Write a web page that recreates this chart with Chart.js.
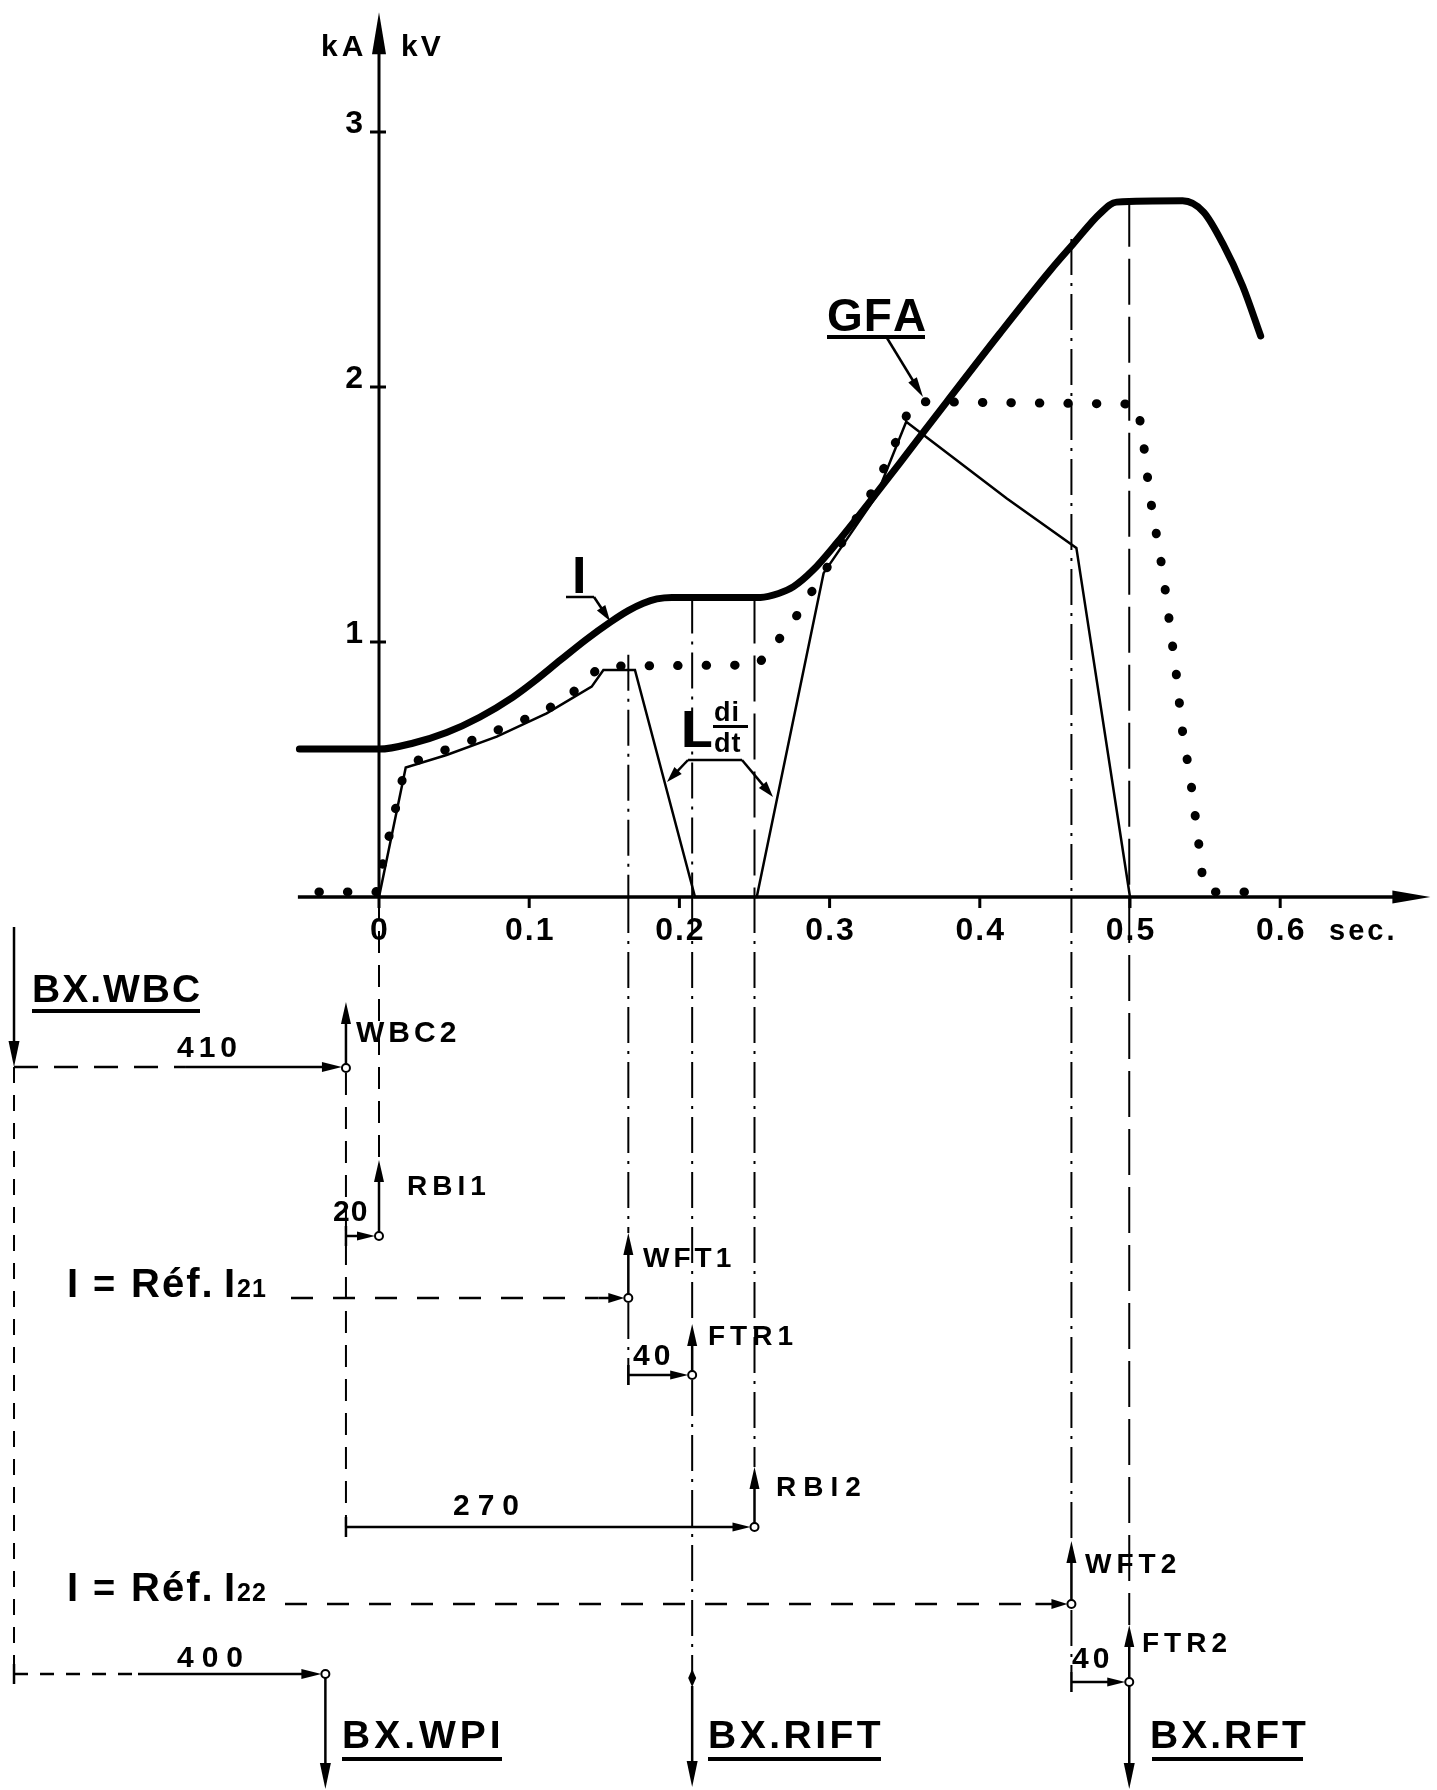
<!DOCTYPE html>
<html>
<head>
<meta charset="utf-8">
<title>BX timing - I, GFA, L di/dt</title>
<script src="https://cdn.jsdelivr.net/npm/chart.js@4.4.0/dist/chart.umd.min.js"></script>
<style>
  html, body { margin: 0; padding: 0; background: #fff; }
  canvas { display: block; }
</style>
</head>
<body>
<canvas id="timing" width="1437" height="1790"></canvas>
<script>
// axes
const xTicks = [0, 0.1, 0.2, 0.3, 0.4, 0.5, 0.6];
const xTickLabels = ['0', '0.1', '0.2', '0.3', '0.4', '0.5', '0.6'];
const yTicks = [1, 2, 3];
const yTickLabels = ['1', '2', '3'];

// current I (kA)
const tCurrent = [-0.053, 0.000, 0.023, 0.045, 0.067, 0.089, 0.103, 0.121, 0.138, 0.154, 0.166, 0.176, 0.185, 0.195,
  0.254, 0.266, 0.276, 0.289, 0.305, 0.318, 0.329, 0.350, 0.378, 0.413, 0.447, 0.462, 0.480, 0.491,
  0.535, 0.549, 0.562, 0.575, 0.587];
const vCurrent = [0.58, 0.58, 0.604, 0.645, 0.705, 0.783, 0.844, 0.930, 1.010, 1.078, 1.123, 1.152, 1.169, 1.175,
  1.175, 1.19, 1.217, 1.282, 1.39, 1.485, 1.567, 1.727, 1.942, 2.208, 2.458, 2.56, 2.68, 2.725,
  2.73, 2.686, 2.56, 2.396, 2.2];

// GFA voltage (kV), dotted
const tGfa = [-0.040, -0.002, 0.0173, 0.0262, 0.0428, 0.0595, 0.0761, 0.0917, 0.1094, 0.1238, 0.135, 0.1471,
  0.2515, 0.2603, 0.268, 0.2792, 0.2885, 0.298, 0.327, 0.3336, 0.340, 0.346, 0.350, 0.3546, 0.3629,
  0.5044, 0.508, 0.513, 0.522, 0.531, 0.5347, 0.5404, 0.5453, 0.549, 0.553, 0.582];
const vGfa = [0.02, 0.02, 0.505, 0.537, 0.574, 0.609, 0.648, 0.684, 0.727, 0.779, 0.83, 0.905,
  0.91, 0.962, 1.024, 1.112, 1.201, 1.289, 1.576, 1.648, 1.733, 1.81, 1.87, 1.938, 1.942,
  1.933, 1.83, 1.58, 1.27, 0.866, 0.66, 0.455, 0.233, 0.04, 0.02, 0.02];

// L di/dt (kV), thin line
const tLdidt = [0, 0.0178, 0.045, 0.0784, 0.1116, 0.1416, 0.1494, 0.1704, 0.2104, 0.2515, 0.296, 0.331, 0.351, 0.418, 0.4643, 0.5];
const vLdidt = [0, 0.508, 0.557, 0.629, 0.72, 0.825, 0.89, 0.89, 0, 0, 1.27, 1.571, 1.864, 1.563, 1.369, 0];

// event times (s) and where their guide starts on the graph
const guideTimes = [0.166, 0.2085, 0.250, 0.461, 0.4995];
const guideTops = [0.95, 1.175, 1.175, 2.58, 2.73];
const tLeft = -0.243;
const tWBC2 = -0.022;
const tWPI = -0.0357;

const ink = '#000';
const dashDot = [36, 8, 3, 8];
const longDash = [46, 12];
const shortDash = [22, 12];

function font(size) { return 'bold ' + size + 'px "Liberation Sans", Arial, sans-serif'; }

function seg(ctx, x1, y1, x2, y2, w, dash) {
  ctx.save();
  ctx.lineWidth = w;
  ctx.setLineDash(dash || []);
  ctx.beginPath(); ctx.moveTo(x1, y1); ctx.lineTo(x2, y2); ctx.stroke();
  ctx.restore();
}
function head(ctx, x, y, ang, len, half) {
  ctx.save();
  ctx.translate(x, y); ctx.rotate(ang);
  ctx.beginPath(); ctx.moveTo(0, 0); ctx.lineTo(-len, -half); ctx.lineTo(-len, half); ctx.closePath(); ctx.fill();
  ctx.restore();
}
function arrow(ctx, x1, y1, x2, y2, w, len, half) {
  const a = Math.atan2(y2 - y1, x2 - x1);
  seg(ctx, x1, y1, x2 - Math.cos(a) * len * 0.6, y2 - Math.sin(a) * len * 0.6, w);
  head(ctx, x2, y2, a, len, half);
}
function ring(ctx, x, y) {
  ctx.save();
  ctx.lineWidth = 2;
  ctx.fillStyle = '#fff';
  ctx.beginPath(); ctx.arc(x, y, 4, 0, Math.PI * 2); ctx.fill(); ctx.stroke();
  ctx.restore();
}
function spaced(ctx, str, x, y, size, gap, align) {
  ctx.font = font(size);
  const chars = [...str];
  const ws = chars.map(c => ctx.measureText(c).width);
  const total = ws.reduce((a, b) => a + b, 0) + gap * (chars.length - 1);
  let cx = align === 'center' ? x - total / 2 : align === 'right' ? x - total : x;
  ctx.textAlign = 'left';
  ctx.textBaseline = 'alphabetic';
  chars.forEach((c, i) => { ctx.fillText(c, cx, y); cx += ws[i] + gap; });
  return total;
}
function underline(ctx, x1, x2, y) { ctx.fillRect(x1, y - 2, x2 - x1, 4); }
function bar(ctx, x, y) { seg(ctx, x, y - 10, x, y + 10, 2.5); }
// event mark: horizontal delay arrow ending in a ring, then the output arrow upwards
function delayMark(ctx, xFrom, xTo, y, yTop) {
  bar(ctx, xFrom, y);
  arrow(ctx, xFrom, y, xTo - 4, y, 2.5, 18, 4.5);
  arrow(ctx, xTo, y - 4, xTo, yTop, 2.5, 22, 5);
  ring(ctx, xTo, y);
}
function refLabel(ctx, sub, y) {
  spaced(ctx, 'I', 67, y, 40, 0);
  spaced(ctx, '=', 93, y, 38, 0);
  spaced(ctx, 'Réf.', 131, y, 40, 2);
  spaced(ctx, 'I', 224, y, 40, 0);
  spaced(ctx, sub, 237, y, 25, 1);
}

const diagram = {
  id: 'diagram',
  beforeDraw(chart) {
    const ctx = chart.ctx;
    ctx.save(); ctx.fillStyle = '#fff'; ctx.fillRect(0, 0, chart.width, chart.height); ctx.restore();
  },
  beforeDatasetsDraw(chart) {
    const { ctx, scales: { x: xs, y: ys } } = chart;
    const X = v => xs.getPixelForValue(v), Y = v => ys.getPixelForValue(v);
    ctx.save();
    ctx.strokeStyle = ink; ctx.fillStyle = ink;
    // guides on the graph
    const styles = [dashDot, dashDot, longDash, dashDot, longDash];
    guideTimes.forEach((t, i) => seg(ctx, X(t), Y(guideTops[i]), X(t), Y(0), 2, styles[i]));
    // axes
    seg(ctx, X(-0.054), Y(0), X(0.7) - 20, Y(0), 3.5);
    head(ctx, X(0.7), Y(0), 0, 38, 6.5);
    seg(ctx, X(0), Y(0), X(0), Y(3.47) + 20, 3);
    head(ctx, X(0), Y(3.47), -Math.PI / 2, 42, 7);
    xTicks.forEach((t, i) => {
      seg(ctx, X(t), Y(0), X(t), Y(0) + 11, 3);
      spaced(ctx, xTickLabels[i], X(t), Y(0) + 43, 32, 2, 'center');
    });
    spaced(ctx, 'sec.', 1329, Y(0) + 43, 29, 3);
    yTicks.forEach((v, i) => {
      seg(ctx, X(0) - 9, Y(v), X(0) + 7, Y(v), 3);
      spaced(ctx, yTickLabels[i], X(0) - 16, Y(v) + 1, 32, 0, 'right');
    });
    spaced(ctx, 'kA', 321, 56, 30, 4);
    spaced(ctx, 'kV', 401, 56, 30, 3);
    ctx.restore();
  },
  afterDatasetsDraw(chart) {
    const { ctx, scales: { x: xs, y: ys } } = chart;
    const X = v => xs.getPixelForValue(v), Y = v => ys.getPixelForValue(v);
    const [g1, g2, g3, g4, g5] = guideTimes.map(X);
    const x0 = X(0), xL = X(tLeft), xW = X(tWBC2), xP = X(tWPI);
    const y0 = Y(0);
    ctx.save();
    ctx.strokeStyle = ink; ctx.fillStyle = ink;

    // curve labels
    spaced(ctx, 'GFA', 827, 331, 46, 1);
    underline(ctx, 827, 925, 337);
    arrow(ctx, 887, 338, 923, 397, 2.5, 20, 5);

    spaced(ctx, 'I', 572, 593, 52, 0);
    seg(ctx, 566, 597, 594, 597, 2.5);
    arrow(ctx, 594, 597, 610, 621, 2.5, 16, 5);

    spaced(ctx, 'L', 681, 747, 52, 0);
    spaced(ctx, 'di', 714, 721, 27, 1);
    ctx.fillRect(713, 725, 35, 3);
    spaced(ctx, 'dt', 714, 752, 27, 1);
    seg(ctx, 688, 760, 742, 760, 2.5);
    arrow(ctx, 688, 760, 667, 782, 2.5, 16, 5);
    arrow(ctx, 742, 760, 773, 797, 2.5, 16, 5);

    // guides continued below the time axis
    seg(ctx, x0, y0, x0, 1160, 2, shortDash);
    seg(ctx, g1, y0, g1, 1233, 2, dashDot);
    seg(ctx, g1, 1303, g1, 1385, 2, dashDot);
    seg(ctx, g2, y0, g2, 1324, 2, dashDot);
    seg(ctx, g2, 1380, g2, 1672, 2, dashDot);
    seg(ctx, g3, y0, g3, 1467, 2, dashDot);
    seg(ctx, g4, y0, g4, 1541, 2, dashDot);
    seg(ctx, g4, 1610, g4, 1672, 2, dashDot);
    seg(ctx, g5, y0, g5, 1625, 2, longDash);
    seg(ctx, xW, 1073, xW, 1527, 2, shortDash);

    // BX.WBC trigger
    spaced(ctx, 'BX.WBC', 32, 1002, 39, 2);
    underline(ctx, 32, 200, 1011);
    seg(ctx, xL, 927, xL, 1045, 2.5);
    head(ctx, xL, 1067, Math.PI / 2, 26, 5.5);
    seg(ctx, xL, 1067, xL, 1674, 2, [16, 12]);
    seg(ctx, xL, 1067, xW - 160, 1067, 2.5, [24, 16]);
    arrow(ctx, xW - 160, 1067, xW - 4, 1067, 2.5, 20, 5);
    spaced(ctx, '410', 177, 1057, 30, 5);
    arrow(ctx, xW, 1064, xW, 1002, 2.5, 22, 5);
    ring(ctx, xW, 1068);
    spaced(ctx, 'WBC2', 356, 1042, 30, 4);

    // RBI1
    delayMark(ctx, xW, x0, 1236, 1160);
    spaced(ctx, '20', 333, 1221, 30, 1);
    spaced(ctx, 'RBI1', 407, 1195, 28, 5);

    // WFT1
    refLabel(ctx, '21', 1297);
    seg(ctx, 291, 1298, g1 - 30, 1298, 2.5, [22, 20]);
    arrow(ctx, g1 - 30, 1298, g1 - 4, 1298, 2.5, 16, 5);
    arrow(ctx, g1, 1294, g1, 1233, 2.5, 22, 5);
    ring(ctx, g1, 1298);
    spaced(ctx, 'WFT1', 643, 1267, 28, 4);

    // FTR1
    delayMark(ctx, g1, g2, 1375, 1324);
    spaced(ctx, '40', 633, 1365, 30, 4);
    spaced(ctx, 'FTR1', 708, 1345, 28, 5);

    // RBI2
    delayMark(ctx, xW, g3, 1527, 1467);
    spaced(ctx, '270', 453, 1515, 30, 8);
    spaced(ctx, 'RBI2', 776, 1496, 28, 7);

    // WFT2
    refLabel(ctx, '22', 1601);
    seg(ctx, 285, 1604, g4 - 36, 1604, 2.5, [22, 20]);
    arrow(ctx, g4 - 36, 1604, g4 - 4, 1604, 2.5, 16, 5);
    arrow(ctx, g4, 1600, g4, 1541, 2.5, 22, 5);
    ring(ctx, g4, 1604);
    spaced(ctx, 'WFT2', 1085, 1573, 28, 5);

    // FTR2 and BX.RFT
    delayMark(ctx, g4, g5, 1682, 1625);
    spaced(ctx, '40', 1072, 1668, 30, 4);
    spaced(ctx, 'FTR2', 1142, 1652, 28, 5);
    arrow(ctx, g5, 1686, g5, 1789, 2.5, 26, 5.5);
    spaced(ctx, 'BX.RFT', 1150, 1748, 39, 3);
    underline(ctx, 1152, 1303, 1759);

    // BX.WPI
    bar(ctx, xL, 1674);
    seg(ctx, xL, 1674, 138, 1674, 2.5, [14, 12]);
    arrow(ctx, 138, 1674, xP - 4, 1674, 2.5, 20, 5);
    spaced(ctx, '400', 177, 1667, 30, 8);
    arrow(ctx, xP, 1678, xP, 1789, 2.5, 26, 5.5);
    ring(ctx, xP, 1674);
    spaced(ctx, 'BX.WPI', 342, 1748, 39, 4);
    underline(ctx, 342, 502, 1759);

    // BX.RIFT
    ctx.beginPath();
    ctx.moveTo(g2, 1669); ctx.lineTo(g2 + 4, 1678); ctx.lineTo(g2, 1687); ctx.lineTo(g2 - 4, 1678);
    ctx.closePath(); ctx.fill();
    arrow(ctx, g2, 1686, g2, 1787, 2.5, 26, 5.5);
    spaced(ctx, 'BX.RIFT', 708, 1748, 39, 3.5);
    underline(ctx, 708, 881, 1759);

    ctx.restore();
  }
};

function pts(ts, vs) { return ts.map((t, i) => ({ x: t, y: vs[i] })); }

new Chart(document.getElementById('timing'), {
  type: 'line',
  data: {
    datasets: [
      {
        label: 'L di/dt',
        data: pts(tLdidt, vLdidt),
        borderColor: ink, borderWidth: 2.5, tension: 0,
        pointRadius: 0, clip: false
      },
      {
        label: 'GFA',
        data: pts(tGfa, vGfa),
        borderColor: ink, borderWidth: 9, tension: 0,
        borderDash: [0.5, 28], borderCapStyle: 'round', borderJoinStyle: 'round',
        pointRadius: 0, clip: false
      },
      {
        label: 'I',
        data: pts(tCurrent, vCurrent),
        borderColor: ink, borderWidth: 7, cubicInterpolationMode: 'monotone',
        borderCapStyle: 'round', borderJoinStyle: 'round',
        pointRadius: 0, clip: false
      }
    ]
  },
  options: {
    responsive: false,
    animation: false,
    events: [],
    layout: { padding: { left: 3.5, right: 6.6, top: 4.5, bottom: 0.5 } },
    scales: {
      x: { type: 'linear', min: -0.25, max: 0.7, display: false },
      y: { type: 'linear', min: -3.5, max: 3.5, display: false }
    },
    plugins: {
      legend: { display: false },
      tooltip: { enabled: false },
      title: { display: false }
    }
  },
  plugins: [diagram]
});
</script>
</body>
</html>
